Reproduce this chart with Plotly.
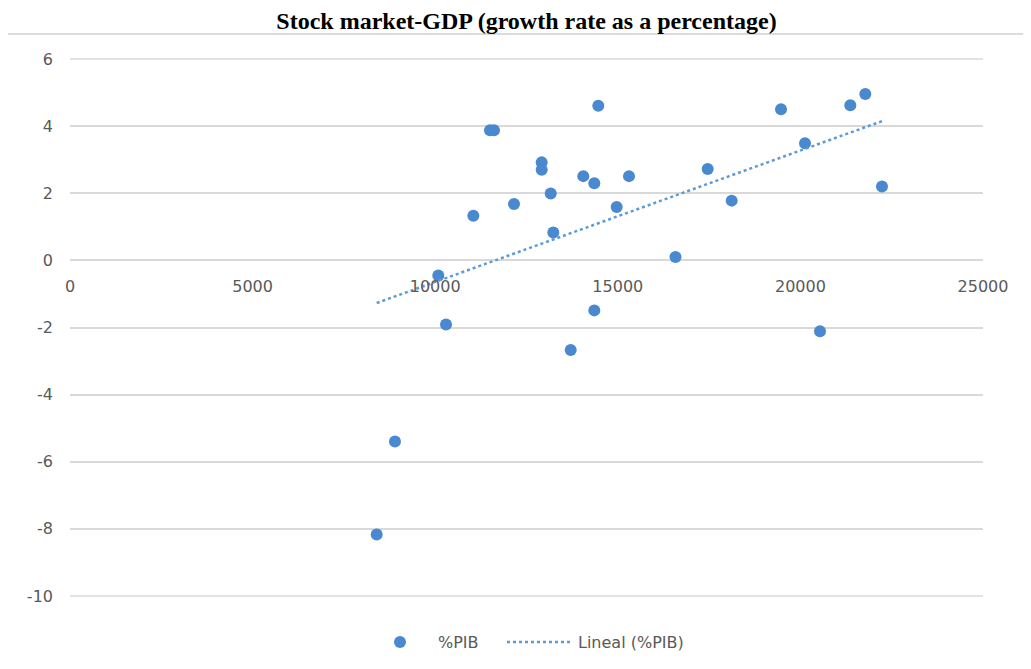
import numpy as np
import plotly.graph_objects as go

# Stock market index (x) vs GDP growth rate % (y)
stock_values = [8398, 8899, 10085, 10296, 11044, 11500, 11610, 12158, 12916, 12916,
                13163, 13234, 13710, 14055, 14357, 14357, 14466, 14970, 15307, 16580,
                17461, 18118, 19469, 20126, 20537, 21367, 21777, 22234]
gdp_growth = [-8.17, -5.40, -0.45, -1.91, 1.33, 3.88, 3.88, 1.68, 2.92, 2.70,
              1.99, 0.83, -2.67, 2.51, 2.30, -1.49, 4.61, 1.59, 2.51, 0.10,
              2.72, 1.78, 4.50, 3.49, -2.11, 4.62, 4.96, 2.20]

x_ticks = [0, 5000, 10000, 15000, 20000, 25000]
x_tick_labels = ["0", "5000", "10000", "15000", "20000", "25000"]
y_ticks = [6, 4, 2, 0, -2, -4, -6, -8, -10]
y_tick_labels = ["6", "4", "2", "0", "-2", "-4", "-6", "-8", "-10"]

series_name = "%PIB"
trend_name = "Lineal (%PIB)"

# Linear trendline (least squares), spanning the data range
slope, intercept = np.polyfit(stock_values, gdp_growth, 1)
trend_x = [min(stock_values), max(stock_values)]
trend_y = [slope * v + intercept for v in trend_x]

dot_color = "#4A88CF"
trend_color = "#5B9BD5"

fig = go.Figure()
fig.add_trace(go.Scatter(
    x=stock_values, y=gdp_growth, mode="markers", name=series_name,
    marker=dict(color=dot_color, size=12, line=dict(width=0)),
))
fig.add_trace(go.Scatter(
    x=trend_x, y=trend_y, mode="lines", name=trend_name,
    line=dict(color=trend_color, width=2.5, dash="dot"),
))

OFF = 8  # page body margin
W, H = 1031 - OFF, 669 - OFF
L, T = 70 - OFF, 59 - OFF
R = W - (983 - OFF)
B = H - (596 - OFF)
pw, ph = W - L - R, H - T - B
fx = lambda px: (px - OFF - L) / pw
fy = lambda py: (H - B - (py - OFF)) / ph
cx = lambda px: (px - OFF) / W
cy = lambda py: 1 - (py - OFF) / H

Y_MIN, Y_MAX = -10, 6
yfrac = lambda v: (v - Y_MIN) / (Y_MAX - Y_MIN)

gray = "#595959"
grid = "#D9D9D9"
legend_font = dict(family="DejaVu Sans", size=16, color=gray)
LEG_Y = 642

shapes = [
    dict(type="line", xref="paper", yref="paper",
         x0=fx(7), x1=fx(1040), y0=fy(34), y1=fy(34),
         line=dict(color="#D0D0D0", width=1.5)),
    dict(type="line", xref="paper", yref="paper",
         x0=fx(7), x1=fx(7), y0=fy(34), y1=fy(680),
         line=dict(color="#D0D0D0", width=1.5)),
    # legend symbols (drawn manually so the legend does not shrink the plot area)
    dict(type="circle", xref="paper", yref="paper",
         xsizemode="pixel", ysizemode="pixel",
         xanchor=fx(400), yanchor=fy(LEG_Y), x0=-6, x1=6, y0=-6, y1=6,
         fillcolor=dot_color, line=dict(width=0)),
    dict(type="line", xref="paper", yref="paper",
         x0=fx(507), x1=fx(570), y0=fy(LEG_Y), y1=fy(LEG_Y),
         line=dict(color=trend_color, width=2.5, dash="dot")),
]
# edge gridlines (plotly skips gridlines lying on the plot-area boundary)
for v in (Y_MIN, Y_MAX):
    shapes.append(dict(type="line", xref="paper", yref="paper", layer="below",
                       x0=0, x1=1, y0=yfrac(v), y1=yfrac(v),
                       line=dict(color=grid, width=1.5)))

annotations = [
    dict(text=series_name, xref="paper", yref="paper", x=fx(436), y=fy(LEG_Y),
         xanchor="left", yanchor="middle", showarrow=False, font=legend_font),
    dict(text=trend_name, xref="paper", yref="paper", x=fx(576), y=fy(LEG_Y),
         xanchor="left", yanchor="middle", showarrow=False, font=legend_font),
]

fig.update_layout(
    width=W, height=H,
    margin=dict(l=L, r=R, t=T, b=B),
    paper_bgcolor="white", plot_bgcolor="white",
    title=dict(
        text="<b>Stock market-GDP (growth rate as a percentage)</b>",
        font=dict(family="Liberation Serif, Times New Roman, serif", size=24, color="black"),
        x=cx(526.5), xref="container", xanchor="center",
        y=cy(21), yref="container", yanchor="middle",
    ),
    xaxis=dict(
        range=[0, 25000], tickvals=x_ticks, ticktext=x_tick_labels,
        showgrid=False, zeroline=False,
        showline=False, ticks="", anchor="free",
        position=yfrac(0),
        tickfont=dict(family="DejaVu Sans", size=16, color=gray),
        ticklabelstandoff=15,
    ),
    yaxis=dict(
        range=[Y_MIN, Y_MAX], tickvals=y_ticks, ticktext=y_tick_labels,
        showgrid=True, gridcolor=grid,
        gridwidth=1.5, zeroline=False, showline=False, ticks="",
        tickfont=dict(family="DejaVu Sans", size=16, color=gray),
        ticklabelstandoff=16,
    ),
    showlegend=False,
    shapes=shapes,
    annotations=annotations,
)

fig.write_html("out.html")
